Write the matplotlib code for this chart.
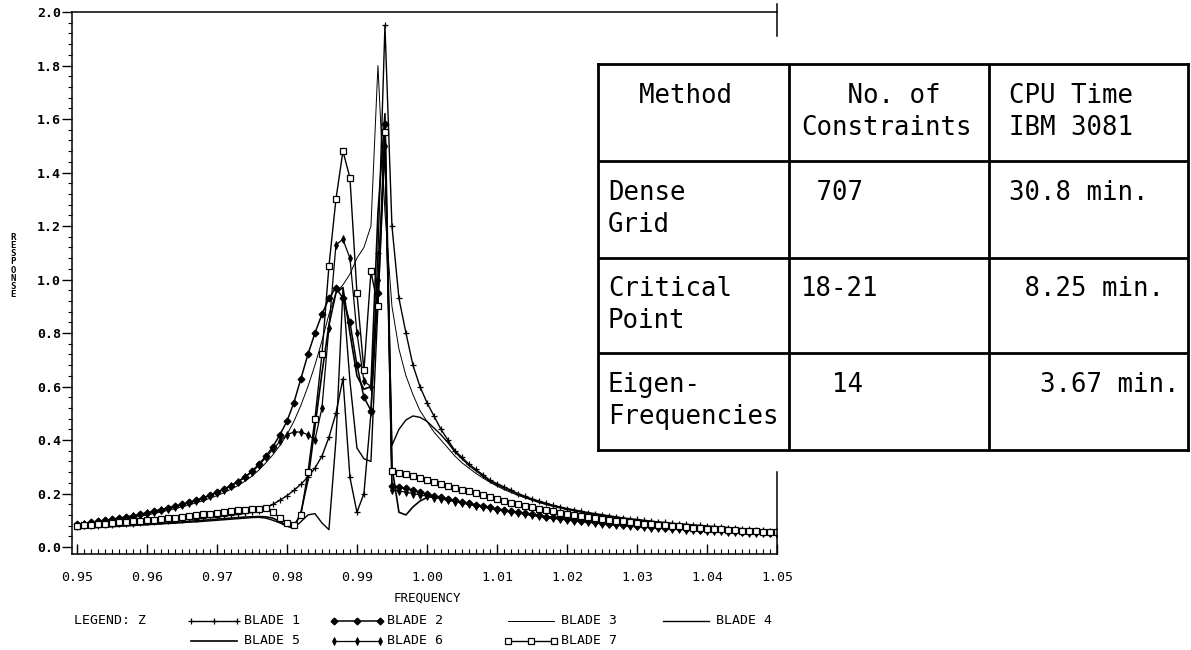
#!/usr/bin/env python3
"""
Forced response of a mistuned bladed disk: 7 blades, plus CPU time table
"""

import numpy as np
import matplotlib
matplotlib.use("Agg")
import matplotlib.pyplot as plt
from matplotlib.ticker import MultipleLocator, FormatStrFormatter

MONO = "DejaVu Sans Mono"

# frequency sampling grid, 0.950 ... 1.050 in steps of 0.001
freq = np.round(0.95 + 0.001 * np.arange(101), 3)

# each blade: left tail (0.950-0.976), resonance zone (0.977-0.994), right tail (0.995-1.050)
b1_left = [0.075, 0.077, 0.078, 0.080, 0.081, 0.083, 0.085, 0.086, 0.088, 0.090, 0.092, 0.094, 0.096, 0.098,
           0.100, 0.102, 0.104, 0.106, 0.108, 0.111, 0.113, 0.116, 0.119, 0.122, 0.126, 0.130, 0.136]
b1_mid = [0.145, 0.160, 0.175, 0.192, 0.212, 0.235, 0.262, 0.295, 0.340, 0.410, 0.500, 0.630, 0.260, 0.130,
          0.200, 0.500, 1.100, 1.950]
b1_right = [1.20, 0.93, 0.80, 0.68, 0.60, 0.54, 0.49, 0.44, 0.40, 0.36, 0.335, 0.31, 0.29, 0.27, 0.25, 0.237,
            0.225, 0.213, 0.20, 0.19, 0.18, 0.172, 0.164, 0.156, 0.15, 0.144, 0.139, 0.134, 0.129, 0.125, 0.121,
            0.117, 0.113, 0.109, 0.106, 0.103, 0.100, 0.097, 0.094, 0.092, 0.089, 0.087, 0.085, 0.083, 0.081,
            0.079, 0.077, 0.075, 0.073, 0.071, 0.069, 0.067, 0.065, 0.063, 0.061, 0.060]

b2_left = [0.085, 0.088, 0.092, 0.096, 0.100, 0.104, 0.108, 0.112, 0.117, 0.122, 0.128, 0.134, 0.140, 0.146,
           0.153, 0.160, 0.167, 0.175, 0.184, 0.194, 0.205, 0.217, 0.230, 0.245, 0.262, 0.283, 0.310]
b2_mid = [0.340, 0.375, 0.420, 0.470, 0.540, 0.630, 0.720, 0.800, 0.870, 0.930, 0.970, 0.930, 0.840, 0.680,
          0.560, 0.510, 0.950, 1.580]
b2_right = [0.23, 0.225, 0.22, 0.212, 0.205, 0.198, 0.192, 0.186, 0.18, 0.174, 0.168, 0.163, 0.158, 0.153,
            0.148, 0.143, 0.138, 0.134, 0.13, 0.126, 0.122, 0.118, 0.114, 0.111, 0.108, 0.105, 0.102, 0.099,
            0.096, 0.093, 0.091, 0.088, 0.086, 0.084, 0.082, 0.08, 0.078, 0.076, 0.074, 0.073, 0.071, 0.07,
            0.068, 0.067, 0.065, 0.064, 0.063, 0.062, 0.06, 0.059, 0.058, 0.057, 0.056, 0.055, 0.054, 0.053]

b3_left = [0.080, 0.083, 0.087, 0.090, 0.094, 0.098, 0.102, 0.106, 0.110, 0.115, 0.120, 0.125, 0.131, 0.137,
           0.143, 0.150, 0.157, 0.165, 0.173, 0.182, 0.192, 0.203, 0.216, 0.230, 0.246, 0.265, 0.288]
b3_mid = [0.315, 0.345, 0.380, 0.420, 0.470, 0.530, 0.600, 0.680, 0.770, 0.870, 0.950, 0.980, 1.020, 1.080,
          1.120, 1.200, 1.800, 1.250]
b3_right = [0.90, 0.74, 0.64, 0.57, 0.51, 0.47, 0.43, 0.40, 0.37, 0.34, 0.315, 0.295, 0.275, 0.258, 0.242,
            0.228, 0.215, 0.204, 0.193, 0.184, 0.175, 0.166, 0.159, 0.152, 0.146, 0.14, 0.135, 0.13, 0.125,
            0.121, 0.117, 0.113, 0.11, 0.106, 0.103, 0.1, 0.097, 0.094, 0.091, 0.089, 0.086, 0.084, 0.082,
            0.08, 0.078, 0.076, 0.074, 0.072, 0.07, 0.068, 0.066, 0.064, 0.062, 0.06, 0.059, 0.058]

b4_left = [0.068, 0.070, 0.071, 0.073, 0.074, 0.076, 0.077, 0.079, 0.080, 0.082, 0.083, 0.085, 0.086, 0.088,
           0.089, 0.091, 0.093, 0.094, 0.096, 0.098, 0.100, 0.102, 0.104, 0.106, 0.108, 0.110, 0.111]
b4_mid = [0.108, 0.100, 0.090, 0.078, 0.070, 0.095, 0.120, 0.125, 0.090, 0.065, 0.400, 0.960, 0.620, 0.370,
          0.330, 0.320, 0.900, 1.500]
b4_right = [0.38, 0.44, 0.475, 0.49, 0.485, 0.47, 0.445, 0.42, 0.39, 0.355, 0.33, 0.305, 0.285, 0.265, 0.245,
            0.232, 0.22, 0.208, 0.197, 0.187, 0.177, 0.169, 0.161, 0.154, 0.148, 0.142, 0.137, 0.132, 0.127,
            0.123, 0.119, 0.115, 0.111, 0.107, 0.104, 0.101, 0.098, 0.095, 0.092, 0.09, 0.087, 0.085, 0.083,
            0.081, 0.079, 0.077, 0.075, 0.073, 0.071, 0.069, 0.067, 0.065, 0.063, 0.061, 0.059, 0.058]

b5_left = [0.070, 0.072, 0.073, 0.075, 0.076, 0.078, 0.079, 0.081, 0.082, 0.084, 0.085, 0.087, 0.089, 0.090,
           0.092, 0.094, 0.096, 0.098, 0.100, 0.102, 0.104, 0.106, 0.108, 0.110, 0.112, 0.113, 0.114]
b5_mid = [0.113, 0.108, 0.095, 0.080, 0.070, 0.130, 0.250, 0.450, 0.650, 0.830, 0.950, 0.970, 0.800, 0.640,
          0.590, 0.600, 1.250, 1.620]
b5_right = [0.30, 0.13, 0.12, 0.15, 0.172, 0.185, 0.19, 0.186, 0.178, 0.172, 0.166, 0.161, 0.156, 0.151, 0.146,
            0.141, 0.136, 0.132, 0.128, 0.124, 0.12, 0.116, 0.112, 0.109, 0.106, 0.103, 0.1, 0.097, 0.094,
            0.092, 0.089, 0.087, 0.085, 0.083, 0.081, 0.079, 0.077, 0.075, 0.073, 0.072, 0.07, 0.069, 0.067,
            0.066, 0.064, 0.063, 0.062, 0.061, 0.059, 0.058, 0.057, 0.056, 0.055, 0.054, 0.053, 0.052]

b6_left = [0.083, 0.086, 0.090, 0.094, 0.098, 0.102, 0.106, 0.110, 0.115, 0.120, 0.126, 0.132, 0.138, 0.144,
           0.151, 0.158, 0.165, 0.173, 0.182, 0.192, 0.203, 0.215, 0.228, 0.243, 0.260, 0.281, 0.305]
b6_mid = [0.335, 0.365, 0.395, 0.420, 0.430, 0.430, 0.420, 0.400, 0.520, 0.820, 1.130, 1.150, 1.080, 0.800,
          0.620, 0.600, 1.000, 1.500]
b6_right = [0.215, 0.21, 0.205, 0.2, 0.195, 0.19, 0.185, 0.18, 0.175, 0.17, 0.165, 0.16, 0.155, 0.15, 0.145,
            0.14, 0.135, 0.131, 0.127, 0.123, 0.119, 0.115, 0.111, 0.108, 0.105, 0.102, 0.099, 0.096, 0.093,
            0.09, 0.088, 0.085, 0.083, 0.081, 0.079, 0.077, 0.075, 0.073, 0.071, 0.07, 0.068, 0.067, 0.065,
            0.064, 0.062, 0.061, 0.06, 0.059, 0.057, 0.056, 0.055, 0.054, 0.053, 0.052, 0.051, 0.05]

b7_left = [0.080, 0.082, 0.084, 0.086, 0.088, 0.090, 0.092, 0.094, 0.096, 0.098, 0.100, 0.102, 0.104, 0.107,
           0.110, 0.113, 0.116, 0.119, 0.122, 0.125, 0.128, 0.131, 0.134, 0.137, 0.140, 0.142, 0.144]
b7_mid = [0.145, 0.130, 0.110, 0.090, 0.083, 0.120, 0.280, 0.480, 0.720, 1.050, 1.300, 1.480, 1.380, 0.950,
          0.660, 1.030, 0.900, 1.550]
b7_right = [0.285, 0.278, 0.272, 0.265, 0.258, 0.25, 0.243, 0.236, 0.229, 0.222, 0.215, 0.208, 0.201, 0.194,
            0.187, 0.18, 0.173, 0.166, 0.16, 0.154, 0.148, 0.143, 0.138, 0.133, 0.128, 0.124, 0.12, 0.116,
            0.112, 0.108, 0.105, 0.102, 0.099, 0.096, 0.093, 0.09, 0.088, 0.085, 0.083, 0.081, 0.079, 0.077,
            0.075, 0.073, 0.071, 0.069, 0.067, 0.066, 0.064, 0.063, 0.061, 0.06, 0.059, 0.058, 0.057, 0.056]

blades = {
    "BLADE 1": b1_left + b1_mid + b1_right,
    "BLADE 2": b2_left + b2_mid + b2_right,
    "BLADE 3": b3_left + b3_mid + b3_right,
    "BLADE 4": b4_left + b4_mid + b4_right,
    "BLADE 5": b5_left + b5_mid + b5_right,
    "BLADE 6": b6_left + b6_mid + b6_right,
    "BLADE 7": b7_left + b7_mid + b7_right,
}

styles = {
    "BLADE 1": dict(marker="+", ms=5, mew=0.9, lw=1.0),
    "BLADE 2": dict(marker="D", ms=3.4, mfc="k", lw=1.1),
    "BLADE 3": dict(lw=0.7),
    "BLADE 4": dict(lw=1.0),
    "BLADE 5": dict(lw=1.2),
    "BLADE 6": dict(marker="d", ms=4, mew=0.6, lw=0.9),
    "BLADE 7": dict(marker="s", ms=4.2, mfc="white", mew=0.9, lw=1.0),
}

# table contents
table_rows = [
    [["  Method"], ["   No. of", "Constraints"], ["CPU Time", "IBM 3081"]],
    [["Dense", "Grid"], [" 707"], ["30.8 min."]],
    [["Critical", "Point"], ["18-21"], [" 8.25 min."]],
    [["Eigen-", "Frequencies"], ["  14"], ["  3.67 min."]],
]

W, H = 1191, 650
fig = plt.figure(figsize=(W / 100, H / 100), dpi=100)

# background axes in pixel units for the free text and legend
bg = fig.add_axes([0, 0, 1, 1])
bg.set_xlim(0, W)
bg.set_ylim(H, 0)
bg.axis("off")

ax = fig.add_axes([72 / W, 1 - 554 / H, 705 / W, 542 / H])
for name, vals in blades.items():
    assert len(vals) == len(freq), name
    ax.plot(freq, vals, color="k", **styles[name])

ax.set_xlim(0.9493, 1.05)
ax.set_ylim(-0.026, 2.0)
ax.xaxis.set_major_locator(MultipleLocator(0.01))
ax.xaxis.set_minor_locator(MultipleLocator(0.001))
ax.yaxis.set_major_locator(MultipleLocator(0.2))
ax.yaxis.set_minor_locator(MultipleLocator(0.04))
ax.xaxis.set_major_formatter(FormatStrFormatter("%.2f"))
ax.yaxis.set_major_formatter(FormatStrFormatter("%.1f"))
ax.tick_params(axis="x", which="major", direction="in", length=7, width=1, pad=12, top=False)
ax.tick_params(axis="x", which="minor", direction="in", length=3.5, width=0.8, top=False)
ax.tick_params(axis="y", which="major", direction="out", length=7, width=1, pad=1, right=False)
ax.tick_params(axis="y", which="minor", direction="out", length=3, width=0.8, right=False)
for lab in ax.get_xticklabels():
    lab.set_fontfamily(MONO)
    lab.set_fontsize(9.5)
for lab in ax.get_yticklabels():
    lab.set_fontfamily(MONO)
    lab.set_fontsize(9.5)
    lab.set_fontweight("bold")
for s in ax.spines.values():
    s.set_linewidth(1.1)
ax.spines["right"].set_bounds(-0.026, 0.28)
ax.axvline(1.05, ymin=0.955, ymax=1.015, color="k", lw=1.1, clip_on=False)

bg.text(13, 266, "\n".join("RESPONSE"), ha="center", va="center", family=MONO,
        weight="bold", fontsize=6.5, linespacing=0.88)
bg.text(427, 598, "FREQUENCY", ha="center", va="center", family=MONO, fontsize=9)

# legend
bg.text(74, 621, "LEGEND: Z", ha="left", va="center", family=MONO, fontsize=9.5)
col_x = [191, 334, 508, 663]
row_y = [621, 641]
order = ["BLADE 1", "BLADE 2", "BLADE 3", "BLADE 4", "BLADE 5", "BLADE 6", "BLADE 7"]
for k, name in enumerate(order):
    x0 = col_x[k % 4]
    y0 = row_y[k // 4]
    bg.plot([x0, x0 + 23, x0 + 46], [y0, y0, y0], color="k", **styles[name])
    bg.text(x0 + 53, y0, name, ha="left", va="center", family=MONO, fontsize=9.5)

# table in the upper right
tab = fig.add_axes([598 / W, 1 - 450 / H, 590 / W, 386 / H])
tab.set_xlim(0, 590)
tab.set_ylim(386, 0)
tab.set_xticks([])
tab.set_yticks([])
for s in tab.spines.values():
    s.set_linewidth(2.0)
col_edges = [0, 191, 391, 590]
row_edges = [0, 97, 194, 289, 386]
for x in col_edges[1:-1]:
    tab.axvline(x, color="k", lw=2.0)
for y in row_edges[1:-1]:
    tab.axhline(y, color="k", lw=2.0)
col_pad = [10, 12, 20]
for r, row in enumerate(table_rows):
    top, bot = row_edges[r], row_edges[r + 1]
    for c, lines in enumerate(row):
        for j, line in enumerate(lines):
            tab.text(col_edges[c] + col_pad[c], top + (bot - top) * (0.33 + 0.33 * j), line,
                     ha="left", va="center", family=MONO, fontsize=18.5)

fig.savefig("out.png", dpi=100)
